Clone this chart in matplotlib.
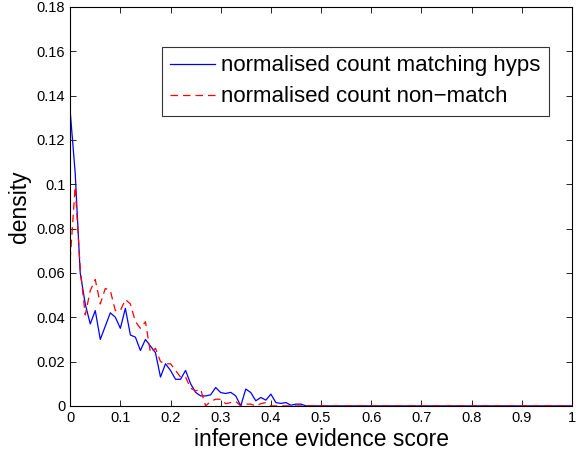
import matplotlib
matplotlib.use("Agg")
import matplotlib.pyplot as plt
import numpy as np

plt.rcParams['font.family'] = ['Liberation Sans', 'DejaVu Sans']

# bin positions 0, 0.01, ..., 1.00
x_bins = np.round(np.arange(0, 101) * 0.01, 2)

match_counts = [
    0.133, 0.105, 0.060, 0.046, 0.037, 0.043, 0.030, 0.036, 0.042, 0.040,
    0.035, 0.044, 0.032, 0.031, 0.025, 0.030, 0.027, 0.024, 0.013, 0.019,
    0.016, 0.012, 0.012, 0.016, 0.010, 0.0061, 0.0045, 0.0045, 0.005, 0.0083,
    0.006, 0.0056, 0.0061, 0.0045, 0.0, 0.0076, 0.006, 0.0023, 0.0038, 0.0026,
    0.0053, 0.0015, 0.0011, 0.0015, 0.0003, 0.0008, 0.0008, 0.0, 0.0, 0.0,
    0.0, 0.0, 0.0, 0.0, 0.0, 0.0, 0.0, 0.0, 0.0, 0.0,
    0.0, 0.0, 0.0, 0.0, 0.0, 0.0, 0.0, 0.0, 0.0, 0.0,
    0.0, 0.0, 0.0, 0.0, 0.0, 0.0, 0.0, 0.0, 0.0, 0.0,
    0.0, 0.0, 0.0, 0.0, 0.0, 0.0, 0.0, 0.0, 0.0, 0.0,
    0.0, 0.0, 0.0, 0.0, 0.0, 0.0, 0.0, 0.0, 0.0, 0.0,
    0.0,
]

nonmatch_counts = [
    0.066, 0.099, 0.062, 0.041, 0.052, 0.057, 0.046, 0.053, 0.052, 0.043,
    0.043, 0.048, 0.046, 0.038, 0.035, 0.038, 0.024, 0.026, 0.020, 0.019,
    0.019, 0.016, 0.013, 0.013, 0.008, 0.0068, 0.0075, 0.0, 0.002, 0.003,
    0.003, 0.001, 0.0015, 0.002, 0.0, 0.0008, 0.0008, 0.0, 0.001, 0.0015,
    0.0, 0.0, 0.0, 0.0, 0.0, 0.0, 0.0, 0.0, 0.0, 0.0,
    0.0, 0.0, 0.0, 0.0, 0.0, 0.0, 0.0, 0.0, 0.0, 0.0,
    0.0, 0.0, 0.0, 0.0, 0.0, 0.0, 0.0, 0.0, 0.0, 0.0,
    0.0, 0.0, 0.0, 0.0, 0.0, 0.0, 0.0, 0.0, 0.0, 0.0,
    0.0, 0.0, 0.0, 0.0, 0.0, 0.0, 0.0, 0.0, 0.0, 0.0,
    0.0, 0.0, 0.0, 0.0, 0.0, 0.0, 0.0, 0.0, 0.0, 0.0,
    0.0,
]

x_ticks = [0, 0.1, 0.2, 0.3, 0.4, 0.5, 0.6, 0.7, 0.8, 0.9, 1]
x_tick_labels = ['0', '0.1', '0.2', '0.3', '0.4', '0.5', '0.6', '0.7', '0.8', '0.9', '1']
y_ticks = [0, 0.02, 0.04, 0.06, 0.08, 0.1, 0.12, 0.14, 0.16, 0.18]
y_tick_labels = ['0', '0.02', '0.04', '0.06', '0.08', '0.1', '0.12', '0.14', '0.16', '0.18']

fig = plt.figure(figsize=(5.8, 4.66), dpi=100)
ax = fig.add_axes([0.121, 0.129, 0.865, 0.856])

ax.plot(x_bins, match_counts, color='#0000ff', lw=0.9,
        label='normalised count matching hyps')
ax.plot(x_bins, nonmatch_counts, color='#ff0000', lw=0.9, ls=(0, (6, 4)),
        label='normalised count non\u2212match')

ax.set_xlim(0, 1)
ax.set_ylim(0, 0.18)
ax.set_xticks(x_ticks)
ax.set_xticklabels(x_tick_labels)
ax.set_yticks(y_ticks)
ax.set_yticklabels(y_tick_labels)
ax.tick_params(direction='in', top=True, right=True, length=4, width=0.6,
               labelsize=10.5)
for s in ax.spines.values():
    s.set_linewidth(0.8)

ax.set_xlabel('inference evidence score', fontsize=16.5, labelpad=2)
ax.set_ylabel('density', fontsize=16.5, labelpad=4)

leg = ax.legend(loc='upper right', bbox_to_anchor=(0.955, 0.9), fontsize=16,
                frameon=True, fancybox=False, handlelength=2.0,
                handletextpad=0.3, borderpad=0.38, labelspacing=0.45,
                borderaxespad=0)
leg.get_frame().set_edgecolor('black')
leg.get_frame().set_linewidth(0.8)

fig.savefig('out.png', dpi=100)
